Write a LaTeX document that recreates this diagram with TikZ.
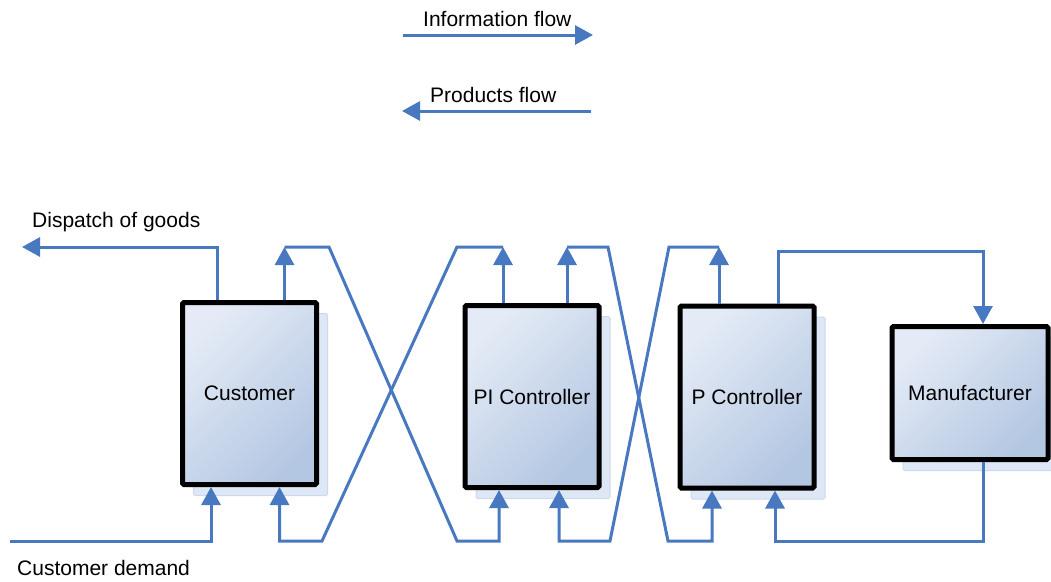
\documentclass[tikz,border=0pt]{standalone}
\usepackage{fontspec}
\setmainfont{Liberation Sans}
\usetikzlibrary{arrows.meta,shadows}
\definecolor{flowblue}{RGB}{72,120,192}
\definecolor{boxlight}{RGB}{228,235,246}
\definecolor{boxdark}{RGB}{180,199,226}
\definecolor{shadowblue}{RGB}{222,231,245}
\definecolor{shadowedge}{RGB}{204,216,236}
\begin{document}
\begin{tikzpicture}[x=1pt, y=-1pt, font=\fontsize{21}{25}\selectfont,
    stagebox/.style ={rectangle, draw=black, line width=5pt, rounded corners=1.5pt,
      left color=boxlight, right color=boxdark, shading angle=45,
      minimum width=134pt, minimum height=182pt,
      drop shadow={shadow xshift=11pt, shadow yshift=-11pt, fill=shadowblue,
        draw=shadowedge, line width=1pt, opacity=1}},
    flowline/.style ={draw=flowblue, line width=3pt, line join=miter},
    flowarrow/.style ={-{Triangle[width=19pt, length=18pt]}},
    note/.style ={anchor=base west, inner sep=0pt}]
   \useasboundingbox (0,0) rectangle (1051,581);
   \node[stagebox] (customer) at (249.5,393.5) {Customer};
   \node[stagebox] (pictrl) at (532,396.5) {PI Controller};
   \node[stagebox] (pctrl) at (747,397) {P Controller};
   \node[stagebox, minimum width=156pt, minimum height=133pt] (maker) at (970,393) {Manufacturer};
   \node[note] (info) at (423,26) {Information flow};
   \node[note] (products) at (430,102) {Products flow};
   \node[note] (dispatch) at (32,227) {Dispatch of goods};
   \node[note] (demand) at (17,575) {Customer demand};
   \coordinate (hi) at (0,247);
   \coordinate (lo) at (0,541);
   \coordinate (infoA) at (403,35);
   \coordinate (infoB) at (593,35);
   \coordinate (prodA) at (591,111);
   \coordinate (prodB) at (402,111);
   \coordinate (goodsEnd) at (22,247);
   \coordinate (demandStart) at (10,541);
   \draw[flowline, flowarrow] (infoA) -- (infoB);
   \draw[flowline, flowarrow] (prodA) -- (prodB);
   \draw[flowline, flowarrow] ([xshift=-32pt]customer.north) |- (goodsEnd);
   \draw[flowline, flowarrow] (demandStart) -| ([xshift=-38.5pt]customer.south);
   \draw[flowline, flowarrow] ([xshift=35pt]customer.north) -- ([xshift=35pt]customer.north |- hi);
   \draw[flowline, flowarrow] ([xshift=35pt]customer.north |- hi) -- (329,247) -- (457,541)
      -| ([xshift=-33pt]pictrl.south);
   \draw[flowline, flowarrow] ([xshift=-29pt]pictrl.north) -- ([xshift=-29pt]pictrl.north |- hi);
   \draw[flowline, flowarrow] ([xshift=-29pt]pictrl.north |- hi) -- (457,247) -- (322,541)
      -| ([xshift=30pt]customer.south);
   \draw[flowline, flowarrow] ([xshift=35pt]pictrl.north) -- ([xshift=35pt]pictrl.north |- hi);
   \draw[flowline, flowarrow] ([xshift=35pt]pictrl.north |- hi) -- (608,247) -- (668,541)
      -| ([xshift=-35pt]pctrl.south);
   \draw[flowline, flowarrow] ([xshift=-28pt]pctrl.north) -- ([xshift=-28pt]pctrl.north |- hi);
   \draw[flowline, flowarrow] ([xshift=-28pt]pctrl.north |- hi) -- (669,247) -- (610,541)
      -| ([xshift=27pt]pictrl.south);
   \draw[flowline, flowarrow] ([xshift=31pt]pctrl.north) -- ++(0,-52) -| ([xshift=13pt]maker.north);
   \draw[flowline, flowarrow] ([xshift=13pt]maker.south) -- ([xshift=13pt]maker.south |- lo)
      -| ([xshift=28pt]pctrl.south);
 \end{tikzpicture}
\end{document}
